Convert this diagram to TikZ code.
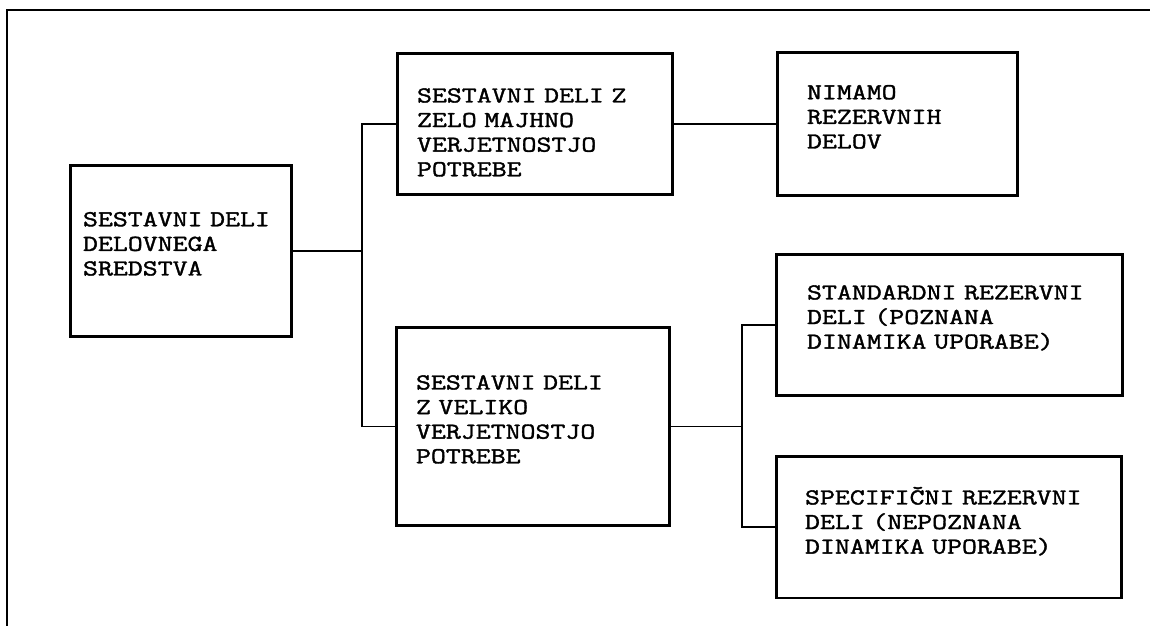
\documentclass[tikz,border=0pt]{standalone}
\usepackage{fontspec}
\setmonofont{Latin Modern Mono}[FakeStretch=1.27, FakeBold=1.6]

\begin{document}
\begin{tikzpicture}[x=0.02cm, y=-0.02cm,
    blok/.style={draw, line width=1.7pt, rectangle, align=left, inner sep=0pt,
        text height=0cm, font=\ttfamily\fontsize{13pt}{14pt}\selectfont},
    veja/.style={line width=0.75pt}]
            \useasboundingbox (0,0) rectangle (1150,626);
            % ==== FRAME ====
            \draw[line width=1.1pt] (1150,10) -- (7,10) -- (7,626);
            % ==== BOXES ====
            \node[blok, minimum width=4.44cm, minimum height=3.44cm, text width=3.92cm, text height=-0.06cm]
                (sredstvo) at (181,251) {SESTAVNI DELI\\DELOVNEGA\\SREDSTVA};
            \node[blok, minimum width=5.52cm, minimum height=2.84cm, text width=4.72cm, text height=0.62cm]
                (majhna) at (535,124) {SESTAVNI DELI Z\\ZELO MAJHNO\\VERJETNOSTJO\\POTREBE};
            \node[blok, minimum width=4.82cm, minimum height=2.86cm, text width=3.62cm, text height=-0.04cm]
                (nimamo) at (897.5,124) {NIMAMO\\REZERVNIH\\DELOV};
            \node[blok, minimum width=5.48cm, minimum height=3.98cm, text width=4.68cm, text height=-0.34cm]
                (velika) at (533,426.5) {SESTAVNI DELI\\Z VELIKO\\VERJETNOSTJO\\POTREBE};
            \node[blok, minimum width=6.94cm, minimum height=2.84cm, text width=5.70cm, text height=-0.18cm]
                (standardni) at (949.5,325) {STANDARDNI REZERVNI\\DELI (POZNANA\\DINAMIKA UPORABE)};
            \node[blok, minimum width=6.92cm, minimum height=2.84cm, text width=5.76cm, text height=0.12cm]
                (specificni) at (949,527) {SPECIFIČNI REZERVNI\\DELI (NEPOZNANA\\DINAMIKA UPORABE)};
            % ==== CONNECTORS ====
            \coordinate (razcep1) at (362,251);
            \coordinate (razcep2) at (742,426.5);
            \draw[veja] (sredstvo.east) -- (razcep1);
            \draw[veja] (majhna.west) -| (razcep1) |- (velika.west);
            \draw[veja] (majhna.east) -- (nimamo.west);
            \draw[veja] (velika.east) -- (razcep2);
            \draw[veja] (standardni.west) -| (razcep2) |- (specificni.west);
\end{tikzpicture}
\end{document}
